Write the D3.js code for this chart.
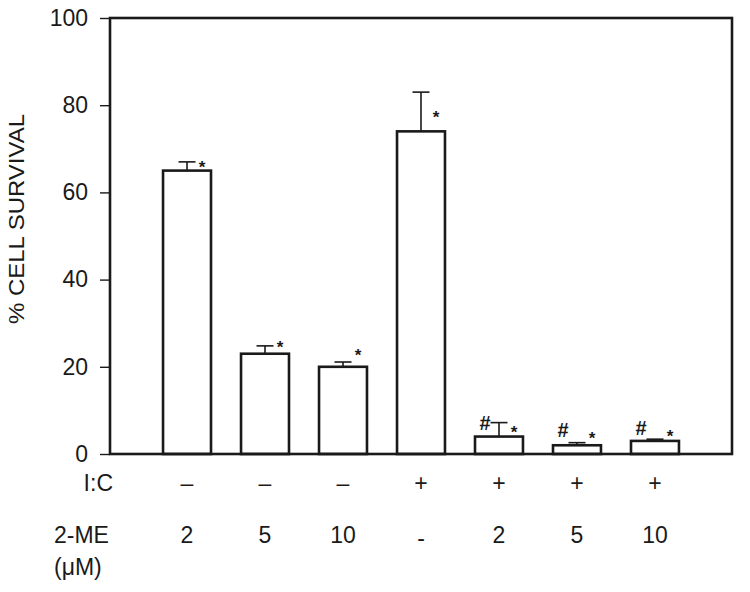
<!DOCTYPE html>
<html>
<head>
<meta charset="utf-8">
<script src="https://cdn.jsdelivr.net/npm/d3@7"></script>
<style>
  html, body { margin: 0; padding: 0; background: #fff; }
  svg { display: block; }
  text { font-family: "Liberation Sans", Arial, sans-serif; fill: #1a1a1a; }
</style>
</head>
<body>
<svg id="chart" width="750" height="592"></svg>
<script>
// ---- data ----
const categories = ["a", "b", "c", "d", "e", "f", "g"];
const survival = [65, 23, 20, 74, 4, 2, 3];
const errors = [2, 1.8, 1.1, 9, 3.2, 0.6, 0.4];
const icLabels = ["–", "–", "–", "+", "+", "+", "+"];
const meLabels = ["2", "5", "10", "-", "2", "5", "10"];
const starLevels = [66.5, 25.2, 23.4, 77.9, 5.7, 4.4, 4.8];
const hashLevels = [null, null, null, null, 5.5, 3.9, 4.4];
const yTicks = [0, 20, 40, 60, 80, 100];

// ---- layout ----
const svg = d3.select("#chart");
const plotL = 110, plotR = 732, plotT = 18, plotB = 454;
const ink = "#1a1a1a";

const x = d3.scaleBand().domain(categories).range([plotL, plotR])
  .paddingInner(0.385).paddingOuter(0.68);
const y = d3.scaleLinear().domain([0, 100]).range([plotB, plotT]);

// bars
svg.append("g").selectAll("rect").data(categories).join("rect")
  .attr("x", d => x(d))
  .attr("y", (d, i) => y(survival[i]))
  .attr("width", x.bandwidth())
  .attr("height", (d, i) => y(0) - y(survival[i]))
  .attr("fill", "#fff").attr("stroke", ink).attr("stroke-width", 2.6);

// error bars
const eg = svg.append("g").attr("stroke", ink).attr("stroke-width", 1.6);
categories.forEach((d, i) => {
  const cx = x(d) + x.bandwidth() / 2;
  eg.append("line").attr("x1", cx).attr("x2", cx)
    .attr("y1", y(survival[i])).attr("y2", y(survival[i] + errors[i]));
  eg.append("line").attr("x1", cx - 8.5).attr("x2", cx + 8.5)
    .attr("y1", y(survival[i] + errors[i])).attr("y2", y(survival[i] + errors[i]));
});

// frame
svg.append("rect").attr("x", plotL).attr("y", plotT)
  .attr("width", plotR - plotL).attr("height", plotB - plotT)
  .attr("fill", "none").attr("stroke", ink).attr("stroke-width", 2.6);

// y axis
const yAxis = svg.append("g").attr("transform", `translate(${plotL},0)`)
  .call(d3.axisLeft(y).tickValues(yTicks).tickSize(10).tickPadding(12).tickFormat(d3.format("d")));
yAxis.select(".domain").remove();
yAxis.selectAll(".tick line").attr("stroke", ink).attr("stroke-width", 1.4);
yAxis.selectAll(".tick text").style("font-size", "23px").attr("fill", ink);

// y label
svg.append("text")
  .attr("transform", "translate(24,219) rotate(-90)")
  .attr("text-anchor", "middle")
  .attr("textLength", 210).attr("lengthAdjust", "spacingAndGlyphs")
  .style("font-size", "22px")
  .text("% CELL SURVIVAL");

// stars
svg.append("g").selectAll("text").data(categories).join("text")
  .attr("x", d => x(d) + x.bandwidth() / 2 + 15)
  .attr("y", (d, i) => y(starLevels[i]) + 9)
  .attr("text-anchor", "middle")
  .style("font-size", "17px").style("font-weight", "bold")
  .text("*");

// hashes
svg.append("g").selectAll("text").data(categories.filter((d, i) => hashLevels[i] !== null)).join("text")
  .attr("x", d => x(d) + x.bandwidth() / 2 - 14)
  .attr("y", d => y(hashLevels[categories.indexOf(d)]))
  .attr("text-anchor", "middle")
  .style("font-size", "20px").style("font-weight", "bold")
  .text("#");

// row labels
svg.append("text").attr("x", 113).attr("y", 491).attr("text-anchor", "end")
  .style("font-size", "23px").text("I:C");
svg.append("text").attr("x", 54).attr("y", 543)
  .style("font-size", "23px").text("2-ME");
svg.append("text").attr("x", 54).attr("y", 575)
  .style("font-size", "23px").text("(μM)");

svg.append("g").selectAll("text").data(categories).join("text")
  .attr("x", d => x(d) + x.bandwidth() / 2)
  .attr("y", 491)
  .attr("text-anchor", "middle")
  .style("font-size", "23px")
  .text((d, i) => icLabels[i]);

svg.append("g").selectAll("text").data(categories).join("text")
  .attr("x", d => x(d) + x.bandwidth() / 2)
  .attr("y", (d, i) => meLabels[i] === "-" ? 546 : 543)
  .attr("text-anchor", "middle")
  .style("font-size", "23px")
  .text((d, i) => meLabels[i]);
</script>
</body>
</html>
